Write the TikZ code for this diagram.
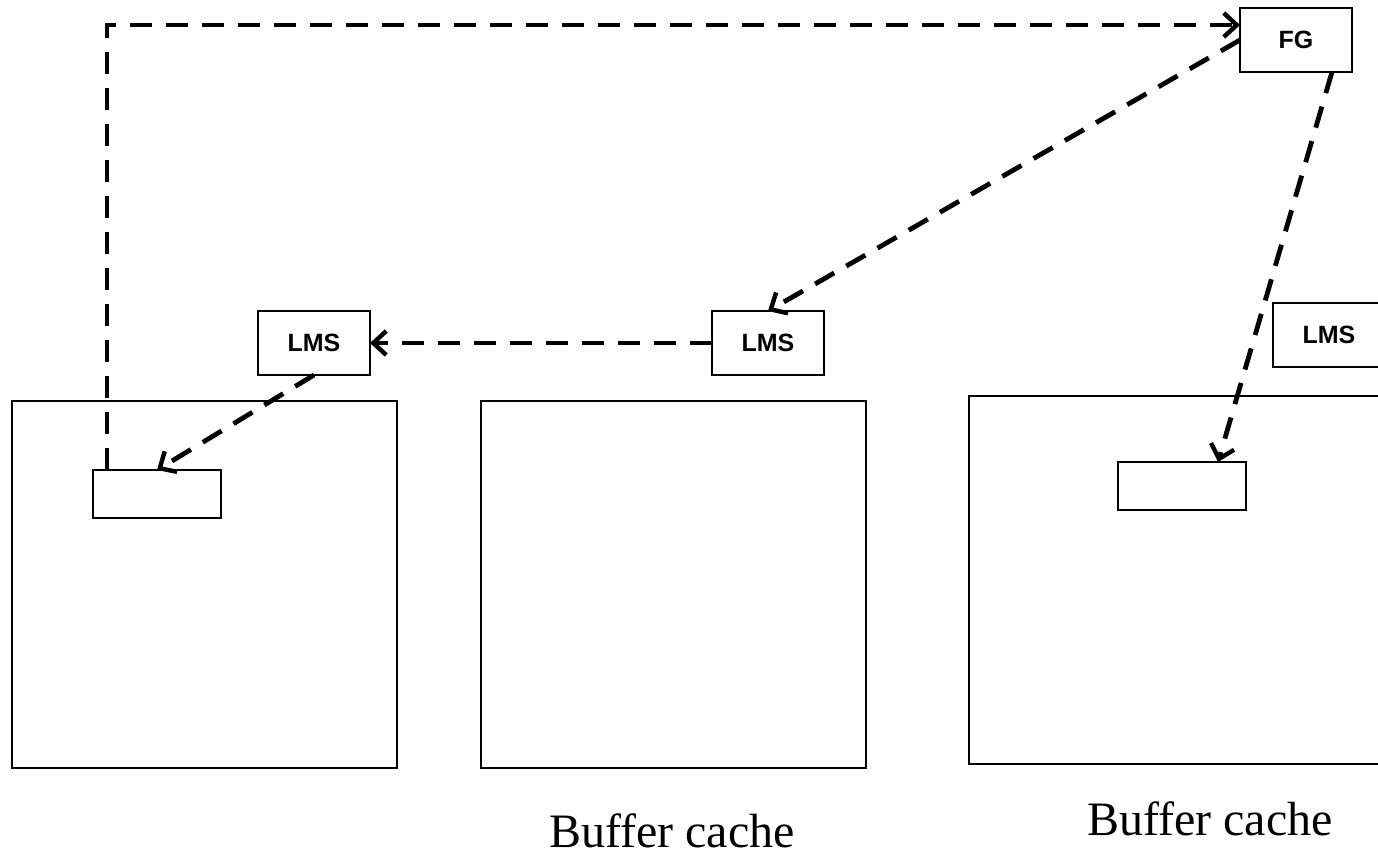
\documentclass[tikz,border=0pt]{standalone}
\usepackage{fontspec}
\setmainfont{Liberation Serif}
\newfontfamily\boxfont{Liberation Sans}
\usetikzlibrary{positioning,arrows.meta}

\begin{document}
\begin{tikzpicture}[x=0.5pt,y=-0.5pt]
  \tikzset{BoxStyle/.style = {
    shape         = rectangle,
    draw          = black,
    fill          = white,
    line width    = 0.75pt,
    text          = black,
    font          = \boxfont\bfseries\fontsize{12.5}{14}\selectfont,
    inner sep     = 0pt,
    outer sep     = 0pt,
    minimum width = 56pt,
    minimum height= 32pt
    }
  }
  \tikzset{CacheStyle/.style = {
    draw          = black,
    line width    = 0.75pt
    }
  }
  \tikzset{EdgeStyle/.style = {
    draw          = black,
    line width    = 2.4pt,
    dash pattern  = on 11pt off 7pt,
    -{Straight Barb[length=6.5pt,width=12pt,line width=2.2pt]}
    }
  }
  \useasboundingbox (0,0) rectangle (1378,856);

  % buffer caches
  \draw[CacheStyle] (12,401) rectangle (397,768);
  \draw[CacheStyle] (481,401) rectangle (866,768);
  \draw[CacheStyle] (969,396) rectangle (1390,764);

  % processes
  \node[BoxStyle](FG) at (1296,40) {FG};
  \node[BoxStyle](LMSa) at (314,343) {LMS};
  \node[BoxStyle](LMSb) at (768,343) {LMS};
  \node[BoxStyle, minimum width=60pt](LMSc) at (1333,335) {\hspace*{-4pt}LMS};

  % blocks
  \node[BoxStyle, minimum width=64pt, minimum height=24pt](S1) at (157,494) {};
  \node[BoxStyle, minimum width=64pt, minimum height=24pt](S3) at (1182,486) {};

  \node(C2) at (672,831) {\fontsize{24}{28}\selectfont Buffer cache};
  \node(C3) at (1210,819) {\fontsize{24}{28}\selectfont Buffer cache};

  % messages
  \draw[EdgeStyle] ([xshift=-25pt]S1.north) |- ([yshift=7.5pt]FG.west);
  \draw[EdgeStyle] (FG.west) -- (LMSb.north);
  \draw[EdgeStyle] (LMSb.west) -- (LMSa.east);
  \draw[EdgeStyle] (LMSa.south) -- (S1.north);
  \draw[EdgeStyle] ([xshift=18pt]FG.south) -- ([xshift=18pt]S3.north);
\end{tikzpicture}
\end{document}
